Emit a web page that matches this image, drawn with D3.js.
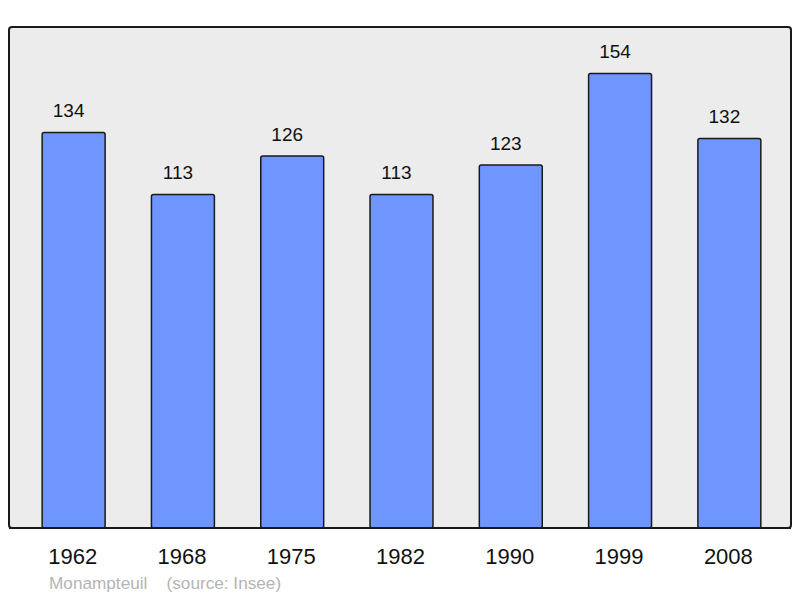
<!DOCTYPE html>
<html>
<head>
<meta charset="utf-8">
<script src="https://cdn.jsdelivr.net/npm/d3@7"></script>
<style>
  body { margin: 0; background: #fff; }
  text { font-family: "Liberation Sans", Arial, sans-serif; }
</style>
</head>
<body>
<svg id="chart" width="800" height="598"></svg>
<script>
const years = ['1962', '1968', '1975', '1982', '1990', '1999', '2008']
const population = [134, 113, 126, 113, 123, 154, 132]
const town = 'Monampteuil'
const source = '(source: Insee)'

const svg = d3.select('#chart')

const frame = { left: 9, top: 27, right: 791, bottom: 528 }

svg.append('rect')
  .attr('x', frame.left)
  .attr('y', frame.top)
  .attr('width', frame.right - frame.left)
  .attr('height', frame.bottom - frame.top)
  .attr('rx', 3)
  .attr('fill', '#ececec')
  .attr('stroke', '#1a1a1a')
  .attr('stroke-width', 2)

const x = d3.scaleBand()
  .domain(years)
  .range([19, 784])
  .paddingInner(0.424)
  .paddingOuter(0.212)

// top of frame sits at ~ 1.1 * max
const y = d3.scaleLinear()
  .domain([0, d3.max(population) * 1.1])
  .range([frame.bottom, frame.top + 1])

const data = years.map((yr, i) => ({ year: yr, value: population[i] }))

svg.selectAll('.bar')
  .data(data)
  .enter()
  .append('rect')
  .attr('class', 'bar')
  .attr('x', d => x(d.year))
  .attr('y', d => y(d.value))
  .attr('width', x.bandwidth())
  .attr('height', d => frame.bottom - y(d.value))
  .attr('rx', 2)
  .attr('fill', '#6f95ff')
  .attr('stroke', '#1a1a1a')
  .attr('stroke-width', 1.5)

svg.selectAll('.value')
  .data(data)
  .enter()
  .append('text')
  .attr('class', 'value')
  .attr('x', d => x(d.year) + x.bandwidth() / 2 - 5)
  .attr('y', d => y(d.value) - 15)
  .attr('text-anchor', 'middle')
  .attr('font-size', 19)
  .attr('fill', '#111')
  .text(d => d.value)

// redraw frame bottom line over the bars
svg.append('line')
  .attr('x1', frame.left)
  .attr('x2', frame.right)
  .attr('y1', frame.bottom)
  .attr('y2', frame.bottom)
  .attr('stroke', '#1a1a1a')
  .attr('stroke-width', 2)

const axis = d3.axisBottom(x).tickSize(0).tickPadding(0)
const axisG = svg.append('g')
  .attr('transform', `translate(0, ${frame.bottom})`)
  .call(axis)
axisG.select('.domain').remove()
axisG.selectAll('text')
  .attr('x', -1)
  .attr('y', 36)
  .attr('dy', 0)
  .attr('font-size', 22)
  .attr('fill', '#111')
  .attr('font-family', '"Liberation Sans", Arial, sans-serif')

svg.append('text')
  .attr('x', 49)
  .attr('y', 589)
  .attr('font-size', 17.2)
  .attr('fill', '#b4b4b4')
  .attr('xml:space', 'preserve')
  .text(town + '    ' + source)
</script>
</body>
</html>
